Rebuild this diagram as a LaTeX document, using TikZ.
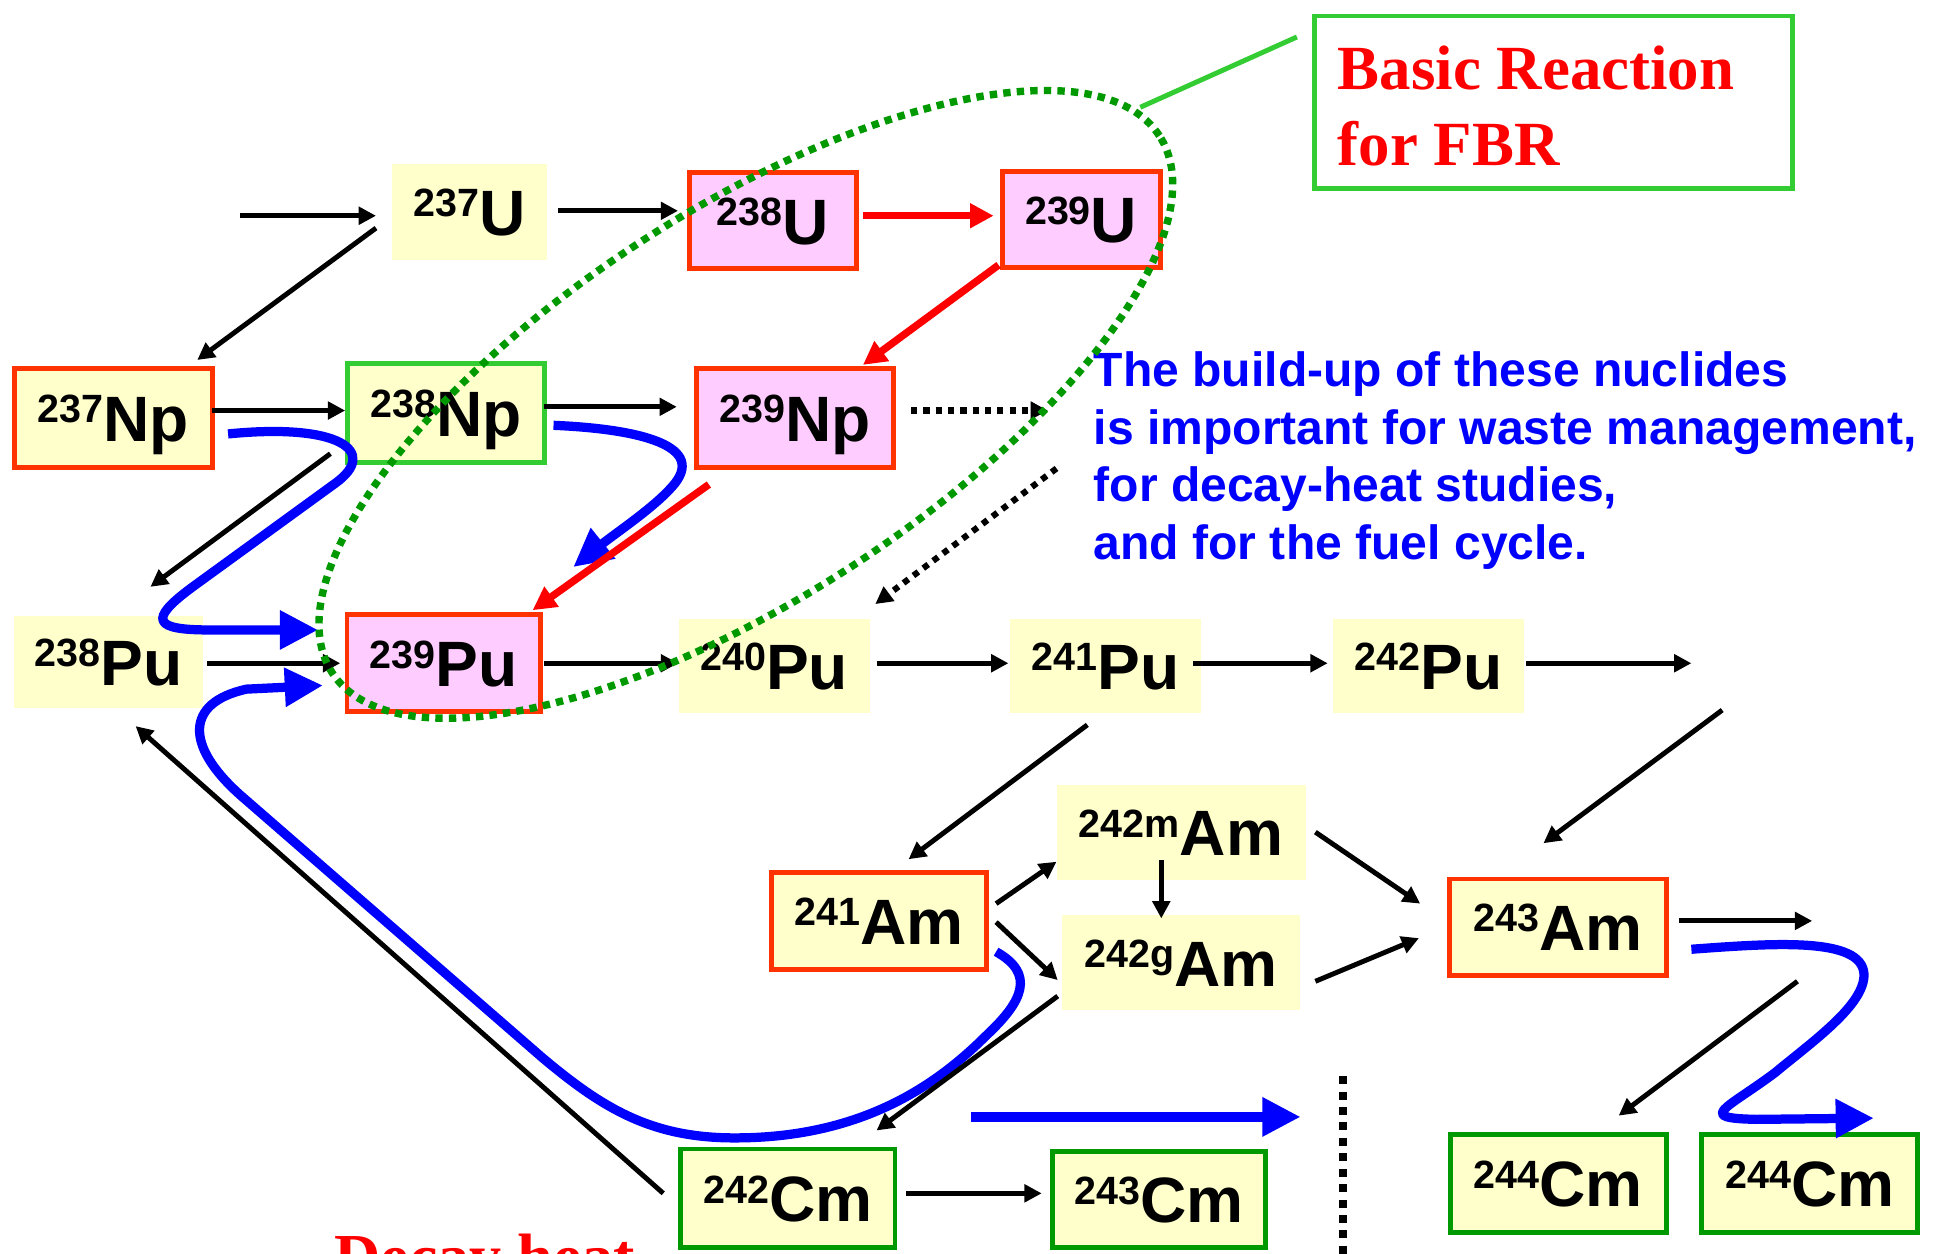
\documentclass[tikz,border=0pt]{standalone}
\usepackage{fontspec}
\setmainfont{Liberation Sans}
\newfontfamily\timesface{Liberation Serif}
\usetikzlibrary{arrows.meta,calc}

\definecolor{nucyellow}{HTML}{FFFFCC}
\definecolor{nucpink}{HTML}{FFCCFF}
\definecolor{boxred}{HTML}{FF3300}
\definecolor{lightgreen}{HTML}{33CC33}
\definecolor{darkgreen}{HTML}{009900}
\definecolor{flowblue}{HTML}{0000FF}

% mass number as a raised prefix to the element symbol
\newcommand\nucl[2]{\raisebox{15pt}{\fontsize{32}{32}\selectfont #1}#2}

\tikzset{
  nuc/.style={inner sep=0pt, text height=38pt, text depth=0pt,
    font=\fontsize{52}{52}\selectfont\bfseries, fill=nucyellow},
  boxsize/.style 2 args={minimum width=#1pt, minimum height=#2pt},
  pinkfill/.style={fill=nucpink},
  redframe/.style={draw=boxred, line width=4pt},
  lgframe/.style={draw=lightgreen, line width=4pt},
  dgframe/.style={draw=darkgreen, line width=4pt},
  arr/.style={line width=4pt, -{Triangle[length=14pt,width=14pt]}},
  dotarr/.style={line width=5pt, dash pattern=on 5pt off 5pt,
    -{Triangle[length=14pt,width=14pt]}},
  redarr/.style={draw=red, line width=6pt, -{Triangle[length=19pt,width=19pt]}},
  flow/.style={draw=flowblue, line width=7.5pt, line join=round,
    -{Triangle[length=31pt,width=30pt]}},
  fbrloop/.style={draw=darkgreen, line width=6pt, dash pattern=on 6pt off 5pt},
}

\begin{document}
\begin{tikzpicture}[x=1pt,y=-1pt]
\useasboundingbox (0,0) rectangle (1568,1017);
\clip (0,0) rectangle (1568,1017);
\fill[white] (0,0) rectangle (1568,1017);

% ---- nuclide boxes ----
\node[nuc, boxsize={126}{78}] (U237) at (381,172) {\nucl{237}{U}};
\node[nuc, pinkfill, redframe, boxsize={135}{78}] (U238) at (627,179) {\nucl{238}{U}};
\node[nuc, pinkfill, redframe, boxsize={128}{78}] (U239) at (877,178) {\nucl{239}{U}};

\node[nuc, redframe, boxsize={161}{80}] (Np237) at (92,339) {\nucl{237}{Np}};
\node[nuc, lgframe, boxsize={160}{80}] (Np238) at (362,335) {\nucl{238}{Np}};
\node[nuc, pinkfill, redframe, boxsize={160}{80}] (Np239) at (645,339) {\nucl{239}{Np}};

\node[nuc, boxsize={153}{75}] (Pu238) at (88,537) {\nucl{238}{Pu}};
\node[nuc, pinkfill, redframe, boxsize={157}{79}] (Pu239) at (360,538) {\nucl{239}{Pu}};
\node[nuc, boxsize={155}{76}] (Pu240) at (628,540) {\nucl{240}{Pu}};
\node[nuc, boxsize={155}{76}] (Pu241) at (897,540) {\nucl{241}{Pu}};
\node[nuc, boxsize={155}{76}] (Pu242) at (1159,540) {\nucl{242}{Pu}};

\node[nuc, boxsize={202}{77}] (Am242m) at (958,675) {\nucl{242m}{Am}};
\node[nuc, redframe, boxsize={174}{79}] (Am241) at (713,747) {\nucl{241}{Am}};
\node[nuc, boxsize={193}{77}] (Am242g) at (958,781) {\nucl{242g}{Am}};
\node[nuc, redframe, boxsize={176}{78}] (Am243) at (1264,752) {\nucl{243}{Am}};

\node[nuc, dgframe, boxsize={174}{80}] (Cm242) at (639,972) {\nucl{242}{Cm}};
\node[nuc, dgframe, boxsize={173}{78}] (Cm243) at (940,973) {\nucl{243}{Cm}};
\node[nuc, dgframe, boxsize={175}{79}] (Cm244a) at (1264,960) {\nucl{244}{Cm}};
\node[nuc, dgframe, boxsize={175}{79}] (Cm244b) at (1468,960) {\nucl{244}{Cm}};

% ---- captions ----
\node[draw=lightgreen, line width=4pt, boxsize={388}{140}] (basic) at (1260,83) {};
\node[anchor=north west, inner sep=0pt, align=left, text=red,
      font=\timesface\bfseries\fontsize{51}{62}\selectfont] (basictxt) at (1085,37)
      {Basic Reaction\\for FBR};
\node[anchor=north west, inner sep=0pt, align=left, text=flowblue,
      font=\bfseries\fontsize{39}{46.7}\selectfont] (note) at (887,285)
      {The build-up of these nuclides\\is important for waste management,\\for decay-heat studies,\\and for the fuel cycle.};
\node[anchor=base west, inner sep=0pt, text=red,
      font=\timesface\bfseries\fontsize{52}{52}\selectfont] (decay) at (271,1037) {Decay heat};

% ---- free ends ----
\coordinate (feedU) at (195,175);
\coordinate (outNp) at (850,333);
\coordinate (feedPu) at (857,380);
\coordinate (outPu) at (1372,538);
\coordinate (feedAm) at (1397,576);
\coordinate (outAm) at (1470,747);
\coordinate (tipNp) at (465,460);
\coordinate (tipCm) at (1520,907);
\coordinate (trendA) at (788,906);
\coordinate (trendB) at (1055,906);
\coordinate (sepTop) at (1089,873);
\coordinate (sepBot) at (1089,1030);
\coordinate (loopEdge) at (925,87);

% ---- thick blue flows ----
\draw[flow] ([shift={(93,13)}]Np237.center)
  .. controls (275,343) and (308,366) .. (272,392)
  -- (155,477)
  .. controls (120,503) and (125,511) .. (170,511)
  -- ([shift={(-102,-27)}]Pu239.center);
\draw[flow] ([shift={(87,10)}]Np238.center)
  .. controls (520,348) and (575,362) .. (545,395)
  .. controls (530,412) and (500,432) .. (tipNp);
\draw[flow] ([shift={(95,25)}]Am241.center)
  .. controls (840,790) and (830,812) .. (800,840)
  .. controls (760,880) and (700,922) .. (600,923)
  .. controls (530,924) and (490,900) .. (440,858)
  -- (195,645)
  .. controls (150,605) and (150,570) .. (200,559)
  -- ([shift={(-98,18)}]Pu239.center);
\draw[flow] ([shift={(108,18)}]Am243.center)
  .. controls (1440,765) and (1510,760) .. (1512,790)
  .. controls (1513,815) and (1470,845) .. (1440,870)
  .. controls (1400,900) and (1375,907) .. (1425,908)
  -- (tipCm);
\draw[flow] (trendA) -- (trendB);

% ---- reaction arrows ----
\draw[arr] (feedU) -- ([shift={(-76,3)}]U237.center);
\draw[arr] ([shift={(72,-1)}]U237.center) -- ([shift={(-77,-8)}]U238.center);
\draw[arr] ([shift={(-76,13)}]U237.center) -- ([shift={(68,-47)}]Np237.center);
\draw[arr] ([shift={(80,-6)}]Np237.center) -- ([shift={(-82,-2)}]Np238.center);
\draw[arr] ([shift={(79,-5)}]Np238.center) -- ([shift={(-96,-9)}]Np239.center);
\draw[dotarr] ([shift={(94,-6)}]Np239.center) -- (outNp);
\draw[dotarr] (feedPu) -- ([shift={(82,-50)}]Pu240.center);
\draw[arr] ([shift={(-94,33)}]Np238.center) -- ([shift={(34,-61)}]Pu238.center);
\draw[arr] ([shift={(80,1)}]Pu238.center) -- ([shift={(-84,0)}]Pu239.center);
\draw[arr] ([shift={(81,0)}]Pu239.center) -- ([shift={(-78,-2)}]Pu240.center);
\draw[arr] ([shift={(83,-2)}]Pu240.center) -- ([shift={(-79,-2)}]Pu241.center);
\draw[arr] ([shift={(71,-2)}]Pu241.center) -- ([shift={(-82,-2)}]Pu242.center);
\draw[arr] ([shift={(79,-2)}]Pu242.center) -- (outPu);
\draw[arr] ([shift={(-15,48)}]Pu241.center) -- ([shift={(24,-50)}]Am241.center);
\draw[arr] (feedAm) -- ([shift={(-12,-68)}]Am243.center);
\draw[arr] ([shift={(95,-14)}]Am241.center) -- ([shift={(-101,24)}]Am242m.center);
\draw[arr] ([shift={(95,1)}]Am241.center) -- ([shift={(-100,14)}]Am242g.center);
\draw[arr] ([shift={(-16,23)}]Am242m.center) -- ([shift={(-16,-36)}]Am242g.center);
\draw[arr] ([shift={(109,0)}]Am242m.center) -- ([shift={(-112,-19)}]Am243.center);
\draw[arr] ([shift={(109,15)}]Am242g.center) -- ([shift={(-113,9)}]Am243.center);
\draw[arr] ([shift={(98,-5)}]Am243.center) -- (outAm);
\draw[arr] ([shift={(-100,27)}]Am242g.center) -- ([shift={(72,-55)}]Cm242.center);
\draw[arr] ([shift={(-101,-4)}]Cm242.center) -- ([shift={(22,52)}]Pu238.center);
\draw[arr] ([shift={(96,-4)}]Cm242.center) -- ([shift={(-95,-5)}]Cm243.center);
\draw[arr] ([shift={(194,44)}]Am243.center) -- ([shift={(49,-55)}]Cm244a.center);

% ---- basic FBR chain ----
\draw[redarr] ([shift={(73,-4)}]U238.center) -- ([shift={(-71,-3)}]U239.center);
\draw[redarr] ([shift={(-67,37)}]U239.center) -- ([shift={(55,-43)}]Np239.center);
\draw[redarr] ([shift={(-70,54)}]Np239.center) -- ([shift={(72,-43)}]Pu239.center);

% ---- separator ----
\draw[line width=6.5pt, dash pattern=on 6.5pt off 6pt] (sepTop) -- (sepBot);

% ---- FBR loop and its label line ----
\draw[fbrloop, rotate around={33:(605,328)}] (605,328) ellipse [x radius=400pt, y radius=157pt];
\draw[draw=lightgreen, line width=4pt] (loopEdge) -- ([shift={(-208,-53)}]basic.center);
\end{tikzpicture}
\end{document}
